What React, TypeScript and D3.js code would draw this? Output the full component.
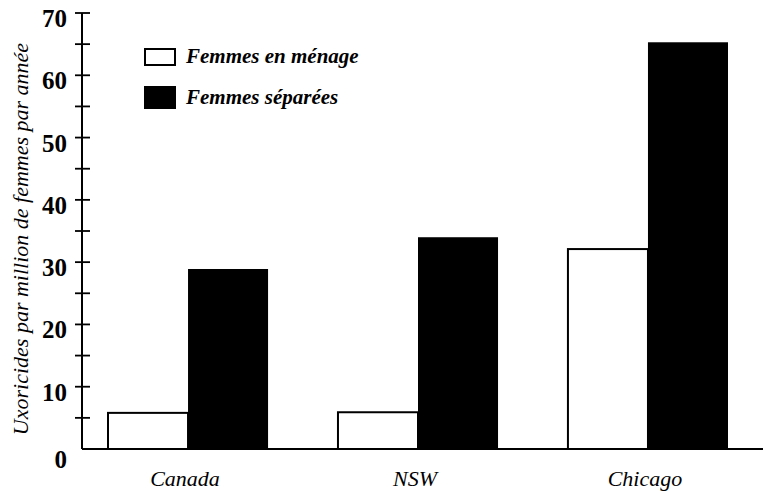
import React from 'react';
import * as d3 from 'd3';

const categories = ['Canada', 'NSW', 'Chicago'];
const seriesNames = ['Femmes en ménage', 'Femmes séparées'];
const enMenage = [5.8, 5.9, 32.1];
const separees = [28.9, 34.0, 65.3];
const majorTicks = [0, 10, 20, 30, 40, 50, 60, 70];
const minorTicks = [5, 15, 25, 35, 45, 55, 65];

const App: React.FC = () => {
  const y = d3.scaleLinear().domain([0, 70]).range([449, 13]);
  const x0 = d3.scaleBand<string>().domain(categories).range([108, 728]).paddingInner(0.304).paddingOuter(0);
  const x1 = d3.scaleBand<string>().domain(seriesNames).range([0, x0.bandwidth()]);
  const axisX = 82;
  const legend = [
    { name: seriesNames[0], fill: '#fff', y: 49, h: 16, ty: 63 },
    { name: seriesNames[1], fill: '#000', y: 87, h: 21, ty: 104 },
  ];

  return (
    <svg
      width={764}
      height={492}
      fontFamily="Liberation Serif"
      style={{ position: 'absolute', left: 0, top: 0, background: '#fff', fontFamily: '"Liberation Serif"' }}
    >
      {/* bars */}
      {categories.map((c, i) => (
        <g key={c} transform={`translate(${x0(c)},0)`}>
          <rect
            x={x1(seriesNames[0])}
            width={x1.bandwidth()}
            y={y(enMenage[i])}
            height={y(0) - y(enMenage[i])}
            fill="#fff"
            stroke="#000"
            strokeWidth={2}
          />
          <rect
            x={x1(seriesNames[1])}
            width={x1.bandwidth()}
            y={y(separees[i])}
            height={y(0) - y(separees[i])}
            fill="#000"
          />
        </g>
      ))}

      {/* axes */}
      <line x1={axisX} x2={axisX} y1={y(70)} y2={y(0)} stroke="#000" strokeWidth={2} />
      <line x1={axisX} x2={763} y1={y(0)} y2={y(0)} stroke="#000" strokeWidth={2} />
      {[...majorTicks.filter(d => d > 0), ...minorTicks].map(d => (
        <line key={d} x1={axisX - 7} x2={axisX + 8} y1={y(d)} y2={y(d)} stroke="#000" strokeWidth={1.8} />
      ))}
      {majorTicks.map(d => (
        <text key={d} x={67} y={y(d) + (d === 0 ? 19 : 14)} textAnchor="end" fontFamily="Liberation Serif" fontSize={25} fontWeight="bold">
          {String(d)}
        </text>
      ))}

      {/* category labels */}
      {categories.map(c => (
        <text key={c} x={x0(c)! + x0.bandwidth() / 2 - 3} y={486} textAnchor="middle" fontFamily="Liberation Serif" fontStyle="italic" fontSize={22}>
          {c}
        </text>
      ))}

      {/* y axis title */}
      <text
        transform={`translate(28,${(y(0) + y(70)) / 2 + 8}) rotate(-90)`}
        textAnchor="middle"
        fontFamily="Liberation Serif"
        fontStyle="italic"
        fontSize={22}
      >
        Uxoricides par million de femmes par année
      </text>

      {/* legend */}
      {legend.map(l => (
        <g key={l.name}>
          <rect x={145} width={30} y={l.y} height={l.h} fill={l.fill} stroke="#000" strokeWidth={2} />
          <text x={186} y={l.ty} fontFamily="Liberation Serif" fontStyle="italic" fontWeight="bold" fontSize={21}>
            {l.name}
          </text>
        </g>
      ))}
    </svg>
  );
};

export default App;
